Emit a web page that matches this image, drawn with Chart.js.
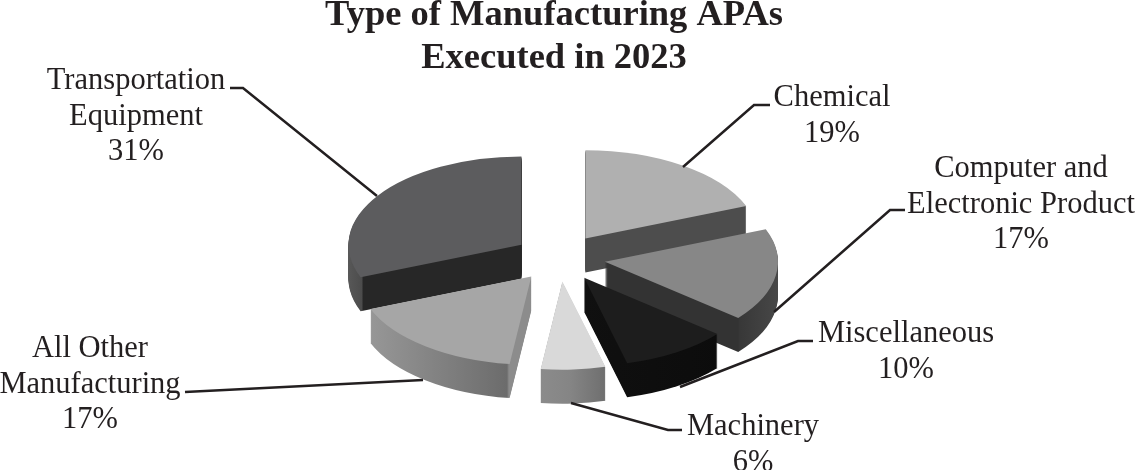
<!DOCTYPE html>
<html>
<head>
<meta charset="utf-8">
<title>Type of Manufacturing APAs</title>
<script src="https://cdn.jsdelivr.net/npm/chart.js@4/dist/chart.umd.js"></script>
<style>
  html, body { margin: 0; background: #fff; }
  canvas { display: block; }
</style>
</head>
<body>
<canvas id="chart" width="1136" height="470"></canvas>
<script>
const chartTitle = ["Type of Manufacturing APAs", "Executed in 2023"];
const categories = [
  ["Chemical"],
  ["Computer and", "Electronic Product"],
  ["Miscellaneous"],
  ["Machinery"],
  ["All Other", "Manufacturing"],
  ["Transportation", "Equipment"],
];
const percents = [19, 17, 10, 6, 17, 31];
const topColors = ["#b0b0b0", "#878787", "#1d1d1d", "#d9d9d9", "#a6a6a6", "#5c5c5e"];

// fake 3d settings
const centerX = 559.5;
const centerY = 258;
const squash = 0.51;
const depth = 34;
const explode = 46;
const textColor = "#231f20";
const drawOrder = [5, 0, 1, 2, 4, 3];

// side shading per slice, [x on page, colour]
const sideStops = [
  [[580, "#4d4d4d"], [750, "#4d4d4d"]],
  [[600, "#333333"], [738, "#333333"], [740, "#383838"], [780, "#484848"]],
  [[580, "#101010"], [725, "#0c0c0c"]],
  [[537, "#8c8c8c"], [570, "#858585"], [605, "#6f6f6f"]],
  [[370, "#979797"], [507, "#6c6c6c"], [509, "#8c8c8c"], [533, "#8c8c8c"]],
  [[345, "#5a5a5a"], [362, "#4c4c4c"], [363, "#272727"], [526, "#272727"]],
];

// label block: centre x, first baseline, then leader points
const labelBoxes = [
  { x: 832, y: 106, line: [[683, 167], [754, 105], [770, 105]] },
  { x: 1021, y: 177, line: [[774, 312], [890, 210], [905, 210]] },
  { x: 906, y: 342, line: [[680, 387], [798, 341], [813, 341]] },
  { x: 753, y: 435, line: [[571, 403], [668, 430], [682, 430]] },
  { x: 90, y: 357, line: [[423, 380], [185, 392]] },
  { x: 136, y: 89, line: [[377, 196], [243, 88], [230, 88]] },
];

function sideGradient(ctx, i, shiftX) {
  const stops = sideStops[i];
  const x0 = stops[0][0];
  const x1 = stops[stops.length - 1][0];
  const grad = ctx.createLinearGradient(x0 - shiftX, 0, x1 - shiftX, 0);
  stops.forEach((s) => grad.addColorStop((s[0] - x0) / (x1 - x0), s[1]));
  return grad;
}

const pie3d = {
  id: "pie3d",
  beforeDatasetDraw() {
    return false; // drawn below instead
  },
  afterDatasetsDraw(chart) {
    const ctx = chart.ctx;
    const arcs = chart.getDatasetMeta(0).data;

    drawOrder.forEach((i) => {
      const arc = arcs[i];
      const mid = (arc.startAngle + arc.endAngle) / 2;
      const ex = Math.cos(mid) * explode;
      const ey = Math.sin(mid) * explode * squash;
      const baseOptions = arc.options;
      const shiftX = centerX + ex - arc.x;

      for (let d = depth; d >= 0; d--) {
        ctx.save();
        ctx.translate(centerX + ex, centerY + ey + d);
        ctx.scale(1, squash);
        ctx.translate(-arc.x, -arc.y);
        if (d > 0) {
          arc.options = Object.assign({}, baseOptions, {
            backgroundColor: sideGradient(ctx, i, shiftX),
          });
        } else {
          arc.options = baseOptions;
        }
        arc.draw(ctx);
        ctx.restore();
      }
      arc.options = baseOptions;
    });

    // leader lines and labels
    ctx.save();
    ctx.strokeStyle = textColor;
    ctx.lineWidth = 2.5;
    ctx.fillStyle = textColor;
    ctx.font = '30.5px "Liberation Serif"';
    ctx.textAlign = "center";
    labelBoxes.forEach((box, i) => {
      ctx.beginPath();
      box.line.forEach((p, n) => (n ? ctx.lineTo(p[0], p[1]) : ctx.moveTo(p[0], p[1])));
      ctx.stroke();
      const lines = categories[i].concat(percents[i] + "%");
      lines.forEach((t, n) => ctx.fillText(t, box.x, box.y + n * 35.5));
    });
    ctx.restore();
  },
};

new Chart(document.getElementById("chart"), {
  type: "pie",
  data: {
    labels: categories,
    datasets: [
      {
        data: percents,
        backgroundColor: topColors,
        borderWidth: 0,
      },
    ],
  },
  options: {
    responsive: false,
    animation: false,
    radius: 173,
    layout: { padding: { right: 28 } },
    plugins: {
      legend: { display: false },
      tooltip: { enabled: false },
      title: {
        display: true,
        text: chartTitle,
        fullSize: false,
        color: textColor,
        font: { family: "Liberation Serif", size: 36.5, weight: "bold", lineHeight: 1.178 },
        padding: { top: -6, bottom: 0 },
      },
    },
  },
  plugins: [pie3d],
});
</script>
</body>
</html>
